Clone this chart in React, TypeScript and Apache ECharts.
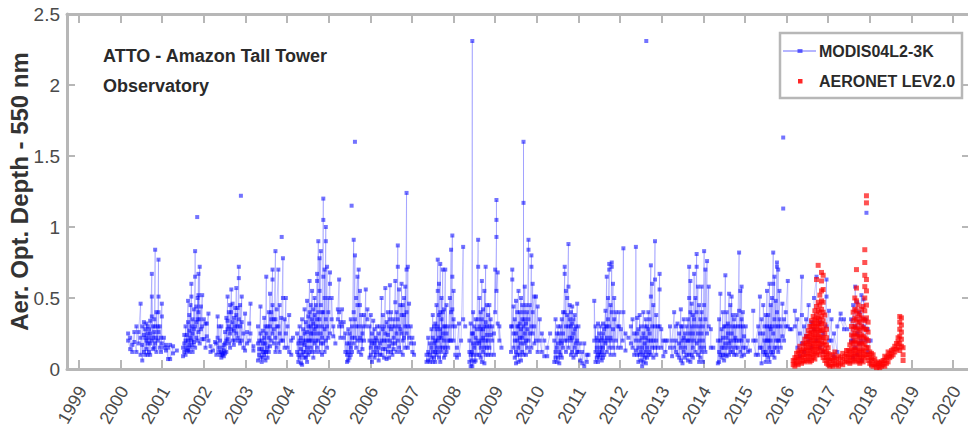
import { useEffect, useRef } from "react";
import * as echarts from "echarts";

// [decimal year, AOD values retrieved around that date, in retrieval order]
type Col = [number, number[]];
type Pt = [number, number];

// Axis ticks
const tickYears = [
  1999, 2000, 2001, 2002, 2003, 2004, 2005, 2006, 2007, 2008, 2009, 2010,
  2011, 2012, 2013, 2014, 2015, 2016, 2017, 2018, 2019, 2020,
];
const aodTicks = [0, 0.5, 1, 1.5, 2, 2.5];

// MODIS04L2-3K AOD, one continuous run per burning season
const modis2000: Col[] = [
  [2000.18, [0.25, 0.2]], [2000.23, [0.14, 0.22]], [2000.28, [0.17, 0.12]], [2000.33, [0.26, 0.19]],
  [2000.38, [0.12, 0.3]], [2000.43, [0.18, 0.26]], [2000.48, [0.46, 0.22, 0.1]], [2000.52, [0.3, 0.06, 0.17]],
  [2000.56, [0.12, 0.24, 0.33]], [2000.59, [0.22, 0.1, 0.28]], [2000.62, [0.14, 0.32, 0.2]],
  [2000.65, [0.1, 0.25, 0.18, 0.3]], [2000.68, [0.28, 0.12, 0.22]], [2000.71, [0.18, 0.34, 0.1, 0.25]],
  [2000.75, [0.67, 0.37, 0.2, 0.51]], [2000.78, [0.14, 0.3, 0.22]], [2000.81, [0.26, 0.15, 0.35]],
  [2000.83, [0.84, 0.3, 0.18]], [2000.86, [0.22, 0.4, 0.12]], [2000.89, [0.3, 0.2]],
  [2000.91, [0.77, 0.51, 0.4, 0.26]], [2000.94, [0.15, 0.3]], [2000.97, [0.22, 0.12]],
  [2000.99, [0.46, 0.37, 0.18]], [2001.04, [0.15, 0.22]], [2001.09, [0.13, 0.17]], [2001.14, [0.07, 0.15]],
  [2001.19, [0.17, 0.07]], [2001.26, [0.16, 0.11]], [2001.35, [0.13]],
];
const modis2001: Col[] = [
  [2001.5, [0.09, 0.15]], [2001.53, [0.18, 0.12, 0.24]], [2001.56, [0.1, 0.2, 0.3]], [2001.59, [0.15, 0.24, 0.13]],
  [2001.62, [0.48, 0.2, 0.33, 0.13]], [2001.65, [0.38, 0.17, 0.27, 0.12]], [2001.68, [0.22, 0.45, 0.15]],
  [2001.7, [0.6, 0.51, 0.2, 0.3]], [2001.73, [0.17, 0.35, 0.25, 0.12]], [2001.76, [0.28, 0.42, 0.19]],
  [2001.79, [0.65, 0.83, 0.3, 0.15]], [2001.82, [0.22, 0.44, 0.33]], [2001.85, [0.35, 0.5, 0.2]],
  [2001.87, [0.67, 0.4, 0.52, 0.26]], [2001.9, [0.72, 0.35, 0.18]], [2001.93, [0.44, 0.28]],
  [2001.96, [0.52, 0.3, 0.21]], [2002.0, [0.21, 0.35]], [2002.04, [0.32, 0.15]], [2002.07, [0.23, 0.32]],
  [2002.11, [0.39, 0.2]], [2002.16, [0.16, 0.12]], [2002.22, [0.13]], [2002.27, [0.19]],
];
const modis2002: Col[] = [
  [2002.3, [0.18, 0.1]], [2002.33, [0.37, 0.22]], [2002.36, [0.12, 0.3, 0.15]], [2002.39, [0.1, 0.2]],
  [2002.42, [0.3, 0.12, 0.08]], [2002.45, [0.1, 0.15, 0.11]], [2002.48, [0.13, 0.09, 0.17]],
  [2002.51, [0.26, 0.11, 0.18]], [2002.54, [0.2, 0.36, 0.12]], [2002.57, [0.51, 0.34, 0.21, 0.28]],
  [2002.6, [0.4, 0.18, 0.3]], [2002.63, [0.25, 0.45, 0.15]], [2002.66, [0.56, 0.28, 0.4]],
  [2002.69, [0.46, 0.2, 0.33]], [2002.72, [0.17, 0.36, 0.27]], [2002.75, [0.3, 0.43, 0.2]],
  [2002.78, [0.57, 0.25, 0.38]], [2002.81, [0.22, 0.43, 0.3]], [2002.84, [0.72, 0.64, 0.35, 0.2]],
  [2002.87, [0.3, 0.45, 0.18]], [2002.91, [0.51, 0.2, 0.33]], [2002.95, [0.25, 0.15]], [2002.99, [0.39, 0.13]],
  [2003.04, [0.26, 0.18]], [2003.09, [0.2, 0.32]], [2003.12, [0.46, 0.25]], [2003.19, [0.13, 0.16]],
];
const modis2003: Col[] = [
  [2003.3, [0.3, 0.06, 0.18]], [2003.33, [0.2, 0.1, 0.14]], [2003.36, [0.44, 0.08, 0.25]],
  [2003.39, [0.14, 0.05, 0.2]], [2003.42, [0.27, 0.08, 0.18, 0.12]], [2003.45, [0.36, 0.1, 0.22]],
  [2003.48, [0.18, 0.06, 0.3, 0.12]], [2003.5, [0.65, 0.12, 0.25]], [2003.53, [0.3, 0.15, 0.08]],
  [2003.56, [0.22, 0.4, 0.12]], [2003.59, [0.53, 0.16, 0.3]], [2003.62, [0.4, 0.2, 0.35]],
  [2003.65, [0.7, 0.63, 0.25, 0.45]], [2003.68, [0.35, 0.18, 0.28]], [2003.72, [0.83, 0.35, 0.12, 0.22]],
  [2003.75, [0.3, 0.15, 0.42]], [2003.79, [0.7, 0.3, 0.18]], [2003.82, [0.45, 0.25, 0.12]],
  [2003.86, [0.36, 0.2]], [2003.9, [0.78, 0.5, 0.2]], [2003.94, [0.35, 0.15]], [2003.97, [0.5, 0.25]],
  [2004.01, [0.15, 0.3]], [2004.05, [0.38, 0.12]], [2004.1, [0.1, 0.2]], [2004.14, [0.22]],
];
const modis2004: Col[] = [
  [2004.24, [0.12, 0.25]], [2004.27, [0.05, 0.18, 0.1]], [2004.3, [0.3, 0.08, 0.2]], [2004.33, [0.14, 0.04, 0.22]],
  [2004.36, [0.35, 0.1, 0.18, 0.03]], [2004.39, [0.2, 0.28, 0.12]], [2004.42, [0.08, 0.42, 0.17, 0.25]],
  [2004.45, [0.33, 0.08, 0.2, 0.12]], [2004.48, [0.26, 0.48, 0.15, 0.05]], [2004.51, [0.37, 0.2, 0.1, 0.3]],
  [2004.54, [0.62, 0.2, 0.4, 0.12]], [2004.57, [0.3, 0.15, 0.45, 0.25]], [2004.6, [0.55, 0.12, 0.35, 0.2]],
  [2004.63, [0.42, 0.25, 0.08, 0.32]], [2004.66, [0.5, 0.18, 0.38, 0.28]], [2004.69, [0.3, 0.45, 0.12, 0.2]],
  [2004.72, [0.62, 0.67, 0.35, 0.15, 0.25]], [2004.75, [0.9, 0.4, 0.2, 0.3]], [2004.78, [0.55, 0.78, 0.12, 0.35]],
  [2004.81, [0.83, 0.45, 0.25, 0.18]], [2004.84, [0.4, 0.3, 0.1, 0.22]], [2004.87, [1.2, 1.05, 0.65, 0.4, 0.18]],
  [2004.9, [0.5, 0.7, 0.28, 0.12]], [2004.93, [1.0, 0.9, 0.35, 0.2]], [2004.96, [0.72, 0.3, 0.15]],
  [2004.99, [0.5, 0.22, 0.4]], [2005.03, [0.68, 0.6, 0.25]], [2005.07, [0.35, 0.5]], [2005.11, [0.23, 0.3]],
  [2005.16, [0.18]],
];
const modis2005: Col[] = [
  [2005.22, [0.35, 0.42]], [2005.25, [0.63, 0.4, 0.3]], [2005.28, [0.33, 0.22]], [2005.32, [0.42, 0.3]],
  [2005.36, [0.33, 0.22]], [2005.4, [0.12, 0.25]], [2005.44, [0.05, 0.18, 0.1]], [2005.47, [0.28, 0.12, 0.06]],
  [2005.5, [0.18, 0.08, 0.25]], [2005.53, [0.1, 0.35, 0.15]], [2005.56, [0.3, 0.12, 0.22]],
  [2005.6, [0.91, 0.4, 0.18]], [2005.63, [0.8, 0.22, 0.35]], [2005.66, [0.15, 0.3, 0.5]],
  [2005.69, [0.65, 0.45, 0.2]], [2005.72, [0.7, 0.3, 0.12]], [2005.75, [0.45, 0.55, 0.22]],
  [2005.78, [0.2, 0.38, 0.1]], [2005.81, [0.3, 0.14, 0.25]], [2005.85, [0.38, 0.2]], [2005.89, [0.56, 0.3]],
  [2005.93, [0.42, 0.35]],
];
const modis2006: Col[] = [
  [2005.98, [0.2, 0.08, 0.3]], [2006.01, [0.15, 0.38, 0.1]], [2006.04, [0.05, 0.25, 0.18]],
  [2006.07, [0.12, 0.34, 0.2]], [2006.1, [0.18, 0.08, 0.28]], [2006.13, [0.1, 0.22, 0.15]],
  [2006.16, [0.3, 0.12, 0.2]], [2006.2, [0.25, 0.06, 0.15]], [2006.23, [0.18, 0.3, 0.1]],
  [2006.27, [0.5, 0.2, 0.1]], [2006.3, [0.28, 0.14, 0.38]], [2006.33, [0.2, 0.08, 0.3]],
  [2006.36, [0.57, 0.14, 0.25]], [2006.39, [0.33, 0.07, 0.2]], [2006.42, [0.24, 0.4, 0.12]],
  [2006.45, [0.16, 0.3, 0.08]], [2006.47, [0.59, 0.35, 0.2]], [2006.5, [0.12, 0.28, 0.4]],
  [2006.53, [0.3, 0.18, 0.1]], [2006.56, [0.22, 0.35, 0.14]], [2006.6, [0.62, 0.47, 0.18, 0.3]],
  [2006.63, [0.25, 0.4, 0.12]], [2006.66, [0.87, 0.72, 0.35, 0.2]], [2006.69, [0.56, 0.3, 0.15]],
  [2006.72, [0.45, 0.12, 0.28]], [2006.75, [0.25, 0.6, 0.38]], [2006.78, [0.2, 0.45, 0.1]],
  [2006.81, [0.38, 0.22, 0.5]], [2006.84, [0.3, 0.58, 0.15]], [2006.87, [1.24, 0.7, 0.4, 0.25]],
  [2006.9, [0.3, 0.72, 0.15]], [2006.93, [0.46, 0.22]], [2006.97, [0.3, 0.18]], [2007.01, [0.22, 0.12]],
  [2007.05, [0.1, 0.18]],
];
const modis2007: Col[] = [
  [2007.35, [0.1, 0.05]], [2007.39, [0.22, 0.06, 0.12]], [2007.43, [0.05, 0.18, 0.1]], [2007.47, [0.28, 0.08, 0.15]],
  [2007.5, [0.38, 0.12, 0.05, 0.22]], [2007.53, [0.18, 0.3, 0.08]], [2007.56, [0.32, 0.12, 0.2, 0.05]],
  [2007.59, [0.45, 0.15, 0.28, 0.1]], [2007.62, [0.77, 0.55, 0.3, 0.12, 0.2]], [2007.65, [0.6, 0.22, 0.38, 0.08]],
  [2007.68, [0.74, 0.4, 0.15, 0.28, 0.05]], [2007.71, [0.35, 0.12, 0.5, 0.22]], [2007.74, [0.7, 0.25, 0.15, 0.4]],
  [2007.77, [0.42, 0.2, 0.3, 0.08]], [2007.8, [0.7, 0.15, 0.3, 0.1]], [2007.83, [0.25, 0.45, 0.12]],
  [2007.87, [0.3, 0.15, 0.2]], [2007.91, [0.5, 0.2]], [2007.94, [0.84, 0.4, 0.2]], [2007.97, [0.94, 0.65, 0.42, 0.3]],
  [2008.0, [0.55, 0.2, 0.35]], [2008.04, [0.3, 0.1]], [2008.08, [0.08, 0.15]], [2008.13, [0.32, 0.1]],
  [2008.18, [0.2]], [2008.23, [0.86, 0.35]], [2008.28, [0.3]],
];
const modis2008: Col[] = [
  [2008.38, [0.2, 0.05, 0.12]], [2008.41, [0.32, 0.1, 0.02]], [2008.44, [0.12, 0.25, 0.06]], [2008.45, [2.31, 0.02]],
  [2008.47, [0.25, 0.4, 0.1, 0.18]], [2008.5, [0.15, 0.3, 0.05]], [2008.53, [0.22, 0.06, 0.35]],
  [2008.56, [0.18, 0.1, 0.28]], [2008.59, [0.91, 0.72, 0.35, 0.2]], [2008.62, [0.18, 0.5, 0.3, 0.1]],
  [2008.65, [0.28, 0.08, 0.4, 0.15]], [2008.68, [0.62, 0.2, 0.35, 0.05]], [2008.71, [0.42, 0.12, 0.28, 0.22]],
  [2008.74, [0.04, 0.3, 0.55, 0.15]], [2008.77, [0.72, 0.33, 0.2, 0.1]], [2008.8, [0.45, 0.15, 0.3, 0.24]],
  [2008.83, [0.1, 0.38, 0.2]], [2008.86, [0.3, 0.15, 0.45]], [2008.89, [0.24, 0.1, 0.35]], [2008.93, [0.2, 0.3]],
  [2008.97, [0.1, 0.25]], [2009.0, [0.7, 0.4]], [2009.03, [0.93, 1.19, 1.05, 0.55]], [2009.06, [0.68, 0.32]],
  [2009.1, [0.2, 0.3]], [2009.15, [0.15]],
];
const modis2009: Col[] = [
  [2009.38, [0.3, 0.12]], [2009.41, [0.7, 0.63, 0.3]], [2009.44, [0.44, 0.15, 0.25]], [2009.47, [0.35, 0.08, 0.2]],
  [2009.5, [0.25, 0.48, 0.12, 0.04]], [2009.53, [0.3, 0.1, 0.2, 0.4]], [2009.56, [0.55, 0.15, 0.3, 0.05]],
  [2009.59, [0.22, 0.4, 0.1, 0.32]], [2009.62, [0.5, 0.18, 0.28, 0.06]], [2009.65, [0.35, 0.12, 0.45, 0.22]],
  [2009.68, [0.3, 1.17, 1.6, 0.4, 0.1]], [2009.71, [0.58, 0.18, 0.35, 0.25]], [2009.74, [0.1, 0.32, 0.45, 0.2]],
  [2009.77, [0.4, 0.15, 0.28]], [2009.8, [0.91, 0.84, 0.35, 0.2]], [2009.83, [0.25, 0.45, 0.12]],
  [2009.87, [0.8, 0.72, 0.3, 0.15]], [2009.9, [0.6, 0.25, 0.4]], [2009.94, [0.51, 0.3, 0.18]],
  [2009.98, [0.51, 0.2]], [2010.02, [0.44, 0.12]], [2010.07, [0.35, 0.2]], [2010.12, [0.12, 0.25]],
  [2010.18, [0.2, 0.09]], [2010.25, [0.09, 0.15]], [2010.32, [0.25]],
];
const modis2010: Col[] = [
  [2010.42, [0.2, 0.05]], [2010.45, [0.35, 0.12, 0.08]], [2010.48, [0.25, 0.05, 0.15]], [2010.51, [0.3, 0.18, 0.08]],
  [2010.54, [0.12, 0.25, 0.04]], [2010.57, [0.3, 0.1, 0.2]], [2010.6, [0.18, 0.35, 0.08]], [2010.63, [0.4, 0.15, 0.25]],
  [2010.67, [0.67, 0.72, 0.4, 0.2]], [2010.7, [0.55, 0.3, 0.12]], [2010.73, [0.38, 0.2, 0.5]],
  [2010.76, [0.88, 0.58, 0.3, 0.15]], [2010.79, [0.45, 0.22, 0.35]], [2010.82, [0.3, 0.1, 0.4, 0.2]],
  [2010.85, [0.44, 0.22, 0.12, 0.32]], [2010.88, [0.35, 0.08, 0.25]], [2010.91, [0.28, 0.15, 0.38]],
  [2010.94, [0.18, 0.3, 0.1]], [2010.97, [0.46, 0.2, 0.12]], [2011.0, [0.3, 0.12]], [2011.04, [0.18, 0.06]],
  [2011.09, [0.12, 0.04]], [2011.14, [0.18, 0.02]], [2011.2, [0.1, 0.05]], [2011.24, [0.1]],
];
const modis2011: Col[] = [
  [2011.38, [0.2, 0.48]], [2011.41, [0.12, 0.3, 0.05]], [2011.44, [0.22, 0.08, 0.15]], [2011.47, [0.32, 0.1, 0.2, 0.05]],
  [2011.5, [0.25, 0.12, 0.08]], [2011.53, [0.15, 0.3, 0.1, 0.2]], [2011.56, [0.06, 0.22, 0.12]],
  [2011.59, [0.32, 0.15, 0.25, 0.08]], [2011.62, [0.2, 0.1, 0.28]], [2011.65, [0.41, 0.18, 0.3]],
  [2011.68, [0.65, 0.3, 0.12, 0.22]], [2011.71, [0.5, 0.2, 0.35]], [2011.74, [0.74, 0.7, 0.3, 0.15]],
  [2011.77, [0.45, 0.22, 0.1]], [2011.8, [0.75, 0.72, 0.4, 0.2]], [2011.83, [0.6, 0.28, 0.15]],
  [2011.86, [0.35, 0.1, 0.5]], [2011.9, [0.2, 0.4]], [2011.94, [0.3, 0.15]], [2011.98, [0.4, 0.3]],
  [2012.02, [0.15, 0.28]], [2012.06, [0.2]], [2012.08, [0.85, 0.4]], [2012.13, [0.13, 0.25]], [2012.2, [0.22]],
];
const modis2012: Col[] = [
  [2012.26, [0.3, 0.18]], [2012.3, [0.35, 0.15]], [2012.34, [0.25, 0.1]], [2012.38, [0.13, 0.86, 0.2]],
  [2012.41, [0.36, 0.1, 0.25]], [2012.44, [0.28, 0.05, 0.15]], [2012.47, [0.2, 0.38, 0.1]], [2012.5, [0.12, 0.3, 0.06]],
  [2012.53, [0.22, 0.02, 0.15]], [2012.56, [0.4, 0.1, 0.25, 0.05]], [2012.59, [0.18, 0.3, 0.08]],
  [2012.62, [0.22, 0.12, 0.35, 0.04]], [2012.65, [0.3, 0.15, 0.08]], [2012.68, [0.4, 0.2, 0.1, 0.28]],
  [2012.71, [0.25, 0.12, 0.35]], [2012.74, [0.73, 0.51, 0.2, 0.1]], [2012.77, [0.6, 0.3, 0.15]],
  [2012.8, [0.45, 0.2, 0.08]], [2012.84, [0.9, 0.63, 0.3, 0.15]], [2012.87, [0.38, 0.2, 0.1]],
  [2012.91, [0.3, 0.15]], [2012.95, [0.67, 0.56, 0.3]], [2012.99, [0.15, 0.28]], [2013.04, [0.09, 0.2]],
  [2013.09, [0.2, 0.12]], [2013.14, [0.2]],
];
const modis2013: Col[] = [
  [2013.2, [0.15, 0.3]], [2013.25, [0.09, 0.2]], [2013.3, [0.4, 0.15]], [2013.34, [0.2, 0.12, 0.3]],
  [2013.38, [0.32, 0.1]], [2013.42, [0.18, 0.25, 0.08]], [2013.46, [0.42, 0.15, 0.3, 0.06]], [2013.5, [0.3, 0.04, 0.2]],
  [2013.53, [0.22, 0.12, 0.35]], [2013.56, [0.08, 0.25, 0.15]], [2013.6, [0.3, 0.1, 0.2]], [2013.63, [0.2, 0.35, 0.06]],
  [2013.66, [0.72, 0.5, 0.25, 0.1]], [2013.69, [0.62, 0.2, 0.4, 0.05]], [2013.72, [0.3, 0.1, 0.46]],
  [2013.75, [0.25, 0.15, 0.38, 0.08]], [2013.78, [0.67, 0.35, 0.2]], [2013.81, [0.5, 0.12, 0.3]],
  [2013.84, [0.81, 0.72, 0.4, 0.18]], [2013.87, [0.58, 0.25, 0.1]], [2013.9, [0.3, 0.05, 0.45, 0.2]],
  [2013.93, [0.15, 0.35, 0.08]], [2013.96, [0.58, 0.25, 0.12, 0.4]], [2013.99, [0.3, 0.2, 0.05]],
  [2014.02, [0.83, 0.45, 0.15]], [2014.05, [0.7, 0.35, 0.12]], [2014.09, [0.76, 0.25]], [2014.13, [0.58, 0.3]],
  [2014.18, [0.28, 0.15]], [2014.24, [0.15]],
];
const modis2014: Col[] = [
  [2014.35, [0.2, 0.04]], [2014.38, [0.35, 0.12, 0.05]], [2014.41, [0.53, 0.2, 0.1]], [2014.44, [0.28, 0.08, 0.15]],
  [2014.47, [0.4, 0.1, 0.22]], [2014.5, [0.15, 0.3, 0.06]], [2014.53, [0.66, 0.3, 0.18, 0.1]], [2014.56, [0.22, 0.4, 0.09]],
  [2014.59, [0.32, 0.15, 0.25]], [2014.62, [0.53, 0.18, 0.3, 0.1]], [2014.65, [0.45, 0.2, 0.12]],
  [2014.68, [0.25, 0.51, 0.15]], [2014.71, [0.38, 0.12, 0.3]], [2014.74, [0.2, 0.35, 0.1]], [2014.77, [0.3, 0.15, 0.22]],
  [2014.8, [0.38, 0.2, 0.1]], [2014.83, [0.15, 0.3]], [2014.86, [0.82, 0.41, 0.2]], [2014.89, [0.55, 0.3, 0.12]],
  [2014.92, [0.58, 0.2, 0.35, 0.09]], [2014.95, [0.3, 0.15, 0.4]], [2014.98, [0.23, 0.1]], [2015.02, [0.3, 0.15]],
  [2015.07, [0.12, 0.2]], [2015.12, [0.13]],
];
const modis2015: Col[] = [
  [2015.2, [0.41, 0.2]], [2015.26, [0.1, 0.2]], [2015.32, [0.3, 0.1]], [2015.36, [0.51, 0.15, 0.25]],
  [2015.4, [0.35, 0.04, 0.15]], [2015.44, [0.25, 0.12, 0.45]], [2015.47, [0.3, 0.1, 0.2]], [2015.5, [0.12, 0.38, 0.05]],
  [2015.53, [0.55, 0.2, 0.3, 0.1]], [2015.56, [0.38, 0.08, 0.2]], [2015.59, [0.6, 0.15, 0.3, 0.05]],
  [2015.62, [0.28, 0.45, 0.12, 0.2]], [2015.65, [0.5, 0.1, 0.3]], [2015.68, [0.82, 0.6, 0.25, 0.12]],
  [2015.71, [0.65, 0.35, 0.15, 0.08]], [2015.74, [0.48, 0.2, 0.3]], [2015.77, [0.72, 0.75, 0.4, 0.15]],
  [2015.8, [0.7, 0.3, 0.12, 0.2]], [2015.83, [0.55, 0.2, 0.35]], [2015.86, [0.3, 0.15]], [2015.9, [0.46, 0.23]],
  [2015.94, [0.35, 0.2]], [2015.98, [0.3, 0.4]], [2016.03, [0.62, 0.3]], [2016.08, [0.28]], [2016.12, [0.28]],
];
const modis2016: Col[] = [
  [2016.2, [0.3, 0.41]], [2016.26, [0.15, 0.35]], [2016.32, [0.09, 0.25]], [2016.37, [0.65, 0.38, 0.18]],
  [2016.42, [0.3, 0.12]], [2016.47, [0.35, 0.23]], [2016.53, [0.45, 0.2]], [2016.6, [0.33, 0.15]],
  [2016.66, [0.28, 0.5]], [2016.72, [0.65, 0.2]], [2016.8, [0.33, 0.15]], [2016.88, [0.25, 0.12]],
  [2016.96, [0.63, 0.51, 0.3]], [2017.02, [0.41, 0.2]], [2017.08, [0.35, 0.2]], [2017.14, [0.09, 0.25]],
  [2017.22, [0.12, 0.3]], [2017.3, [0.39, 0.35]], [2017.38, [0.28, 0.35]], [2017.46, [0.28]],
];
const modis2017: Col[] = [
  [2017.55, [0.2, 0.35]], [2017.6, [0.08, 0.45, 0.2]], [2017.65, [0.15, 0.58, 0.3]], [2017.7, [0.25, 0.47, 0.1]],
  [2017.75, [0.4, 0.18]], [2017.8, [0.52, 0.2, 0.06]], [2017.85, [0.49, 0.3]], [2017.9, [0.2, 0.35]],
  [2017.95, [0.28, 0.12]], [2018.02, [0.2]],
];
// Single retrievals with no neighbouring day
const modisIsolated: Pt[] = [
  [2001.84, 1.07], [2002.89, 1.22], [2003.87, 0.93], [2005.55, 1.15], [2005.63, 1.6],
  [2012.63, 2.31], [2015.92, 1.13], [2015.92, 1.63], [2017.92, 1.1],
];

// AERONET Level 2.0 AOD at 550 nm
const aeronet2016: Col[] = [
  [2016.16, [0.03, 0.06]], [2016.2, [0.02, 0.05, 0.08]], [2016.24, [0.04, 0.08, 0.11]],
  [2016.28, [0.03, 0.07, 0.12]], [2016.32, [0.05, 0.09, 0.13, 0.16]], [2016.36, [0.04, 0.08, 0.12]],
  [2016.4, [0.06, 0.1, 0.14, 0.18]], [2016.44, [0.05, 0.09, 0.13, 0.17, 0.21]],
  [2016.48, [0.06, 0.1, 0.14, 0.18, 0.23]], [2016.52, [0.07, 0.11, 0.15, 0.19, 0.23, 0.27]],
  [2016.56, [0.05, 0.09, 0.13, 0.17, 0.21, 0.25, 0.3]],
  [2016.6, [0.06, 0.1, 0.14, 0.18, 0.22, 0.26, 0.3, 0.34]],
  [2016.64, [0.08, 0.12, 0.16, 0.2, 0.24, 0.28, 0.32, 0.37]],
  [2016.68, [0.07, 0.11, 0.15, 0.19, 0.23, 0.27, 0.31, 0.35, 0.41]],
  [2016.72, [0.1, 0.14, 0.18, 0.22, 0.26, 0.3, 0.34, 0.38, 0.44, 0.63]],
  [2016.76, [0.12, 0.16, 0.2, 0.24, 0.28, 0.32, 0.36, 0.41, 0.47, 0.73]],
  [2016.8, [0.1, 0.15, 0.19, 0.23, 0.27, 0.31, 0.35, 0.4, 0.45, 0.52]],
  [2016.84, [0.13, 0.18, 0.22, 0.27, 0.32, 0.37, 0.42, 0.48, 0.55, 0.62, 0.68]],
  [2016.88, [0.08, 0.12, 0.17, 0.22, 0.28, 0.34, 0.4, 0.47, 0.56, 0.66]],
  [2016.92, [0.06, 0.1, 0.14, 0.19, 0.25, 0.31, 0.38]],
  [2016.96, [0.04, 0.08, 0.12, 0.17, 0.22, 0.28]], [2017.0, [0.03, 0.07, 0.11, 0.15]],
  [2017.04, [0.02, 0.06, 0.1]], [2017.08, [0.03, 0.07]], [2017.12, [0.02, 0.06, 0.1]],
  [2017.16, [0.04, 0.08, 0.12]], [2017.2, [0.03, 0.07]], [2017.25, [0.02, 0.05, 0.09]],
  [2017.3, [0.04, 0.08]], [2017.35, [0.03, 0.07, 0.11]], [2017.4, [0.05, 0.09]],
  [2017.44, [0.06, 0.1, 0.13]],
];
const aeronet2017: Col[] = [
  [2017.48, [0.05, 0.09, 0.13]], [2017.52, [0.04, 0.08, 0.12, 0.17]],
  [2017.56, [0.06, 0.1, 0.14, 0.19, 0.24, 0.3]],
  [2017.6, [0.05, 0.09, 0.13, 0.18, 0.23, 0.28, 0.34, 0.4]],
  [2017.64, [0.07, 0.11, 0.15, 0.2, 0.25, 0.3, 0.36, 0.42, 0.5]],
  [2017.68, [0.06, 0.1, 0.14, 0.19, 0.24, 0.29, 0.35, 0.41, 0.48, 0.57, 0.7]],
  [2017.72, [0.05, 0.09, 0.13, 0.18, 0.23, 0.28, 0.33, 0.39, 0.45]],
  [2017.76, [0.04, 0.08, 0.12, 0.17, 0.22, 0.27, 0.33, 0.38]],
  [2017.8, [0.06, 0.1, 0.14, 0.19, 0.24, 0.3, 0.36, 0.42]],
  [2017.84, [0.05, 0.09, 0.13, 0.18, 0.23, 0.29, 0.35, 0.44]],
  [2017.88, [0.08, 0.12, 0.17, 0.22, 0.28, 0.34, 0.41, 0.5, 0.58, 0.66, 0.75, 0.84]],
  [2017.92, [0.1, 0.15, 0.21, 0.28, 0.36, 0.45, 0.55, 0.63, 1.17, 1.22]],
  [2017.96, [0.06, 0.1, 0.15, 0.2, 0.26, 0.33]], [2018.0, [0.04, 0.08, 0.12]],
  [2018.04, [0.03, 0.07, 0.11]], [2018.08, [0.02, 0.06, 0.1]], [2018.12, [0.03, 0.07]],
  [2018.16, [0.01, 0.04]], [2018.2, [0.02, 0.05]],
];
const aeronet2018: Col[] = [
  [2018.24, [0.01, 0.04]], [2018.28, [0.02, 0.05]], [2018.32, [0.03, 0.06]],
  [2018.36, [0.02, 0.06, 0.09]], [2018.4, [0.04, 0.08]], [2018.44, [0.05, 0.09, 0.12]],
  [2018.48, [0.08, 0.11]], [2018.52, [0.09, 0.13]], [2018.56, [0.1, 0.14]], [2018.6, [0.12, 0.16]],
  [2018.64, [0.14, 0.18]], [2018.68, [0.15, 0.19, 0.22]],
  [2018.72, [0.13, 0.18, 0.23, 0.28, 0.33, 0.37]], [2018.76, [0.16, 0.21, 0.26, 0.31, 0.36]],
  [2018.8, [0.06, 0.1, 0.15]],
];

const FONT = "'Liberation Sans', Arial, Helvetica, sans-serif";
const AXIS_GRAY = "#b7b7b7";
const TEXT_DARK = "#2a2a2a";
const TICK_TEXT = "#4a4a4a";
const MODIS_LINE = "rgba(60, 60, 255, 0.28)";
const MODIS_DOT = "rgba(0, 0, 255, 0.55)";
const AERONET_DOT = "rgba(255, 0, 0, 0.85)";

// Plot frame: 1999 sits 12px right of the left spine, one year spans ~41.62px
const PX_PER_YEAR = 41.62;
const GRID_LEFT = 67;
const GRID_RIGHT = -2;
const X_MIN = 1999 - 12 / PX_PER_YEAR;
const X_MAX = X_MIN + (968 - GRID_LEFT - GRID_RIGHT) / PX_PER_YEAR;
// rotated year labels sit slightly left of their tick
const LABEL_SHIFT = 0.16;

function flattenCols(cols: Col[]): Pt[] {
  const out: Pt[] = [];
  cols.forEach(([t, vals]) => vals.forEach((v) => out.push([t, v])));
  return out;
}

// Runs are joined into one line series, separated by empty points so that
// separate runs are not connected.
function joinRuns(runs: Pt[][]): (number | string)[][] {
  const out: (number | string)[][] = [];
  runs.forEach((run, i) => {
    if (i > 0) out.push([run[0][0], "-"]);
    run.forEach((p) => out.push([p[0], p[1]]));
  });
  return out;
}

export default function App() {
  const ref = useRef<HTMLDivElement>(null);

  useEffect(() => {
    if (!ref.current) return;
    const chart = echarts.init(ref.current, undefined, { renderer: "svg" });

    const seasons = [
      modis2000, modis2001, modis2002, modis2003, modis2004, modis2005, modis2006,
      modis2007, modis2008, modis2009, modis2010, modis2011, modis2012, modis2013,
      modis2014, modis2015, modis2016, modis2017,
    ];
    const modisData = joinRuns([
      ...seasons.map(flattenCols),
      ...modisIsolated.map((p) => [p]),
    ]);
    const aeronetData = [
      ...flattenCols(aeronet2016),
      ...flattenCols(aeronet2017),
      ...flattenCols(aeronet2018),
    ];

    const axisLine = { show: true, onZero: false, lineStyle: { color: AXIS_GRAY, width: 3 } };
    const tickStyle = { color: AXIS_GRAY, width: 2 };

    chart.setOption({
      animation: false,
      backgroundColor: "#ffffff",
      textStyle: { fontFamily: FONT },
      title: {
        text: "ATTO - Amazon Tall Tower\nObservatory",
        left: 103,
        top: 41,
        padding: 0,
        textStyle: {
          fontFamily: FONT,
          fontSize: 18,
          fontWeight: "bold",
          color: TEXT_DARK,
          lineHeight: 30,
        },
      },
      grid: {
        left: GRID_LEFT,
        right: GRID_RIGHT,
        top: 14,
        bottom: 63,
        containLabel: false,
        outerBoundsMode: "none",
      },
      xAxis: [
        {
          type: "value",
          position: "bottom",
          min: X_MIN,
          max: X_MAX,
          axisLine,
          axisTick: { show: true, inside: true, length: 9, customValues: tickYears, lineStyle: tickStyle },
          axisLabel: {
            customValues: tickYears.map((y) => y - LABEL_SHIFT),
            formatter: (v: number) => String(Math.round(v)),
            rotate: 60,
            align: "center",
            verticalAlign: "middle",
            margin: 36,
            fontFamily: FONT,
            fontSize: 18,
            color: TICK_TEXT,
          },
          splitLine: { show: false },
        },
        {
          type: "value",
          position: "top",
          min: X_MIN,
          max: X_MAX,
          axisLine,
          axisTick: { show: true, inside: true, length: 9, customValues: tickYears, lineStyle: tickStyle },
          axisLabel: { show: false },
          splitLine: { show: false },
        },
      ],
      yAxis: [
        {
          type: "value",
          position: "left",
          min: aodTicks[0],
          max: aodTicks[aodTicks.length - 1],
          interval: 0.5,
          name: "Aer. Opt. Depth - 550 nm",
          nameLocation: "middle",
          nameGap: 36,
          nameMoveOverlap: false,
          nameTextStyle: { fontFamily: FONT, fontSize: 24, fontWeight: "bold", color: "#333" },
          axisLine,
          axisTick: { show: true, inside: true, length: 8, lineStyle: tickStyle },
          axisLabel: {
            margin: 7,
            fontFamily: FONT,
            fontSize: 19,
            color: TICK_TEXT,
            padding: [6, 0, 0, 0],
          },
          splitLine: { show: false },
        },
        {
          type: "value",
          position: "right",
          min: aodTicks[0],
          max: aodTicks[aodTicks.length - 1],
          interval: 0.5,
          axisLine,
          axisTick: { show: true, inside: true, length: 8, lineStyle: tickStyle },
          axisLabel: { show: false },
          splitLine: { show: false },
        },
      ],
      series: [
        {
          name: "MODIS04L2-3K",
          type: "line",
          xAxisIndex: 0,
          yAxisIndex: 0,
          data: modisData,
          connectNulls: false,
          showSymbol: true,
          showAllSymbol: true,
          symbol: "rect",
          symbolSize: 4,
          lineStyle: { color: MODIS_LINE, width: 1 },
          itemStyle: { color: MODIS_DOT },
          emphasis: { disabled: true },
          z: 2,
        },
        {
          name: "AERONET LEV2.0",
          type: "scatter",
          xAxisIndex: 0,
          yAxisIndex: 0,
          data: aeronetData,
          symbol: "rect",
          symbolSize: 5,
          itemStyle: { color: AERONET_DOT },
          emphasis: { disabled: true },
          z: 3,
        },
      ],
      graphic: [
        {
          type: "rect",
          z: 100,
          shape: { x: 780, y: 33, width: 182, height: 65 },
          style: { fill: "#ffffff", stroke: AXIS_GRAY, lineWidth: 2.5 },
        },
        {
          type: "line",
          z: 101,
          shape: { x1: 783, y1: 51, x2: 816, y2: 51 },
          style: { stroke: "rgba(90, 90, 255, 0.45)", lineWidth: 2 },
        },
        {
          type: "rect",
          z: 102,
          shape: { x: 797.5, y: 49, width: 5, height: 4 },
          style: { fill: MODIS_DOT },
        },
        {
          type: "text",
          z: 102,
          x: 819,
          y: 51,
          style: {
            text: "MODIS04L2-3K",
            fontFamily: FONT,
            fontSize: 16,
            fontWeight: "bold",
            fill: TEXT_DARK,
            verticalAlign: "middle",
          },
        },
        {
          type: "rect",
          z: 102,
          shape: { x: 798, y: 79, width: 4.5, height: 4.5 },
          style: { fill: AERONET_DOT },
        },
        {
          type: "text",
          z: 102,
          x: 819,
          y: 81,
          style: {
            text: "AERONET LEV2.0",
            fontFamily: FONT,
            fontSize: 16,
            fontWeight: "bold",
            fill: TEXT_DARK,
            verticalAlign: "middle",
          },
        },
      ],
    });

    return () => chart.dispose();
  }, []);

  return (
    <div
      ref={ref}
      style={{ position: "fixed", left: 0, top: 0, width: 968, height: 432, background: "#fff" }}
    />
  );
}
